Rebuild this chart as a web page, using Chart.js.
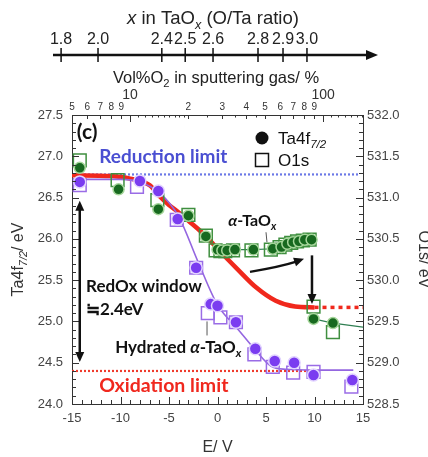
<!DOCTYPE html>
<html lang="en">
<head>
<meta charset="UTF-8">
<title>Ta4f / O1s vs E</title>
<script src="https://cdn.jsdelivr.net/npm/chart.js@4.4.1/dist/chart.umd.min.js"></script>
<style>
  body { margin: 0; background: #fff; }
  canvas { display: block; }
</style>
</head>
<body>
<canvas id="xpsChart" width="428" height="457"></canvas>
<script>
// α-TaOx film: Ta4f7/2 (left axis) and O1s (right axis) vs applied E
const greenTaE   = [-14.2, -10.2, -6.1, -3.0, -1.2, 0.0, 0.5, 1.0, 1.8, 3.7, 5.7, 6.6, 7.2, 7.8, 8.4, 9.0, 9.7, 9.9, 11.9];
const greenTa    = [26.86, 26.60, 26.36, 26.28, 26.03, 25.87, 25.86, 25.86, 25.87, 25.87, 25.88, 25.90, 25.94, 25.96, 25.97, 25.99, 25.99, 25.03, 24.98];
const greenO1sE  = [-14.2, -10.3, -6.2, -3.0, -1.2, -0.2, 0.3, 0.8, 1.6, 3.5, 5.5, 6.4, 7.0, 7.6, 8.2, 8.8, 9.5, 9.9, 11.9];
const greenO1s   = [531.45, 531.21, 530.97, 530.79, 530.54, 530.36, 530.35, 530.35, 530.36, 530.36, 530.37, 530.40, 530.43, 530.45, 530.47, 530.48, 530.49, 529.68, 529.37];

// hydrated α-TaOx film
const purpleTaE  = [-14.2, -8.0, -6.1, -4.1, -2.2, -0.7, 0.0, 1.9, 3.9, 5.9, 7.9, 9.9, 13.9];
const purpleTa   = [26.69, 26.70, 26.58, 26.24, 25.65, 25.21, 25.19, 24.99, 24.67, 24.52, 24.50, 24.35, 24.29];
const purpleO1sE = [-14.2, -8.3, -4.2, -2.2, -1.0, 0.3, 1.9, 3.8, 5.7, 7.8, 9.9, 13.8];
const purpleO1s  = [531.15, 531.13, 530.73, 530.15, 529.60, 529.55, 529.49, 529.10, 528.95, 528.88, 528.89, 528.71];

// guide curves
const redFitE    = [-15, -11, -9, -7, -6, -5, -4, -3, -2, -1, 0, 2, 4, 6, 8, 10];
const redFitTa   = [26.77, 26.76, 26.73, 26.65, 26.52, 26.41, 26.32, 26.22, 26.12, 26.01, 25.88, 25.64, 25.41, 25.25, 25.18, 25.17];
const redTailE   = [10, 15];
const redTailTa  = [25.17, 25.17];
const purpleFitE  = [-14.5, -10, -8, -6, -4, -2, 0, 2, 4, 5.5, 7, 10, 14];
const purpleFitTa = [26.72, 26.72, 26.69, 26.56, 26.27, 25.72, 25.20, 24.92, 24.64, 24.46, 24.42, 24.41, 24.41];
const greenLinkE  = [0.0, 1.0, 1.8, 3.7, 5.7, 6.6, 7.8, 9.0, 9.7, null, 9.9, 11.9, 15];
const greenLinkTa = [25.87, 25.86, 25.87, 25.87, 25.88, 25.90, 25.96, 25.99, 25.99, null, 25.03, 24.98, 24.93];

const reductionLimit = 26.78;
const oxidationLimit = 24.40;

// top axes: sputtering gas O2 vol% (log) and the matching O/Ta ratio
const ratioLabels = ['1.8', '2.0', '2.4', '2.5', '2.6', '2.8', '2.9', '3.0'];
const ratioVol    = [4.39, 6.82, 14.6, 19.3, 26.9, 46, 62, 82.5];
const volDigitVals = [5, 6, 7, 8, 9, 20, 30, 40, 50, 60, 70, 80, 90];
const volDigitText = ['5', '6', '7', '8', '9', '2', '3', '4', '5', '6', '7', '8', '9'];
const volDecades   = [10, 100];

const FONT = '"Liberation Sans", Arial, sans-serif';
const BOLD = 'Lato, "Open Sans", sans-serif';

const pts = (xs, ys) => xs.map((v, i) => (v === null ? {x: null, y: null} : {x: v, y: ys[i]}));

function richRun(ctx, parts, size, weight, fam) {
  return parts.map(p => {
    const s = p.sub ? size * 0.68 : size;
    const font = (p.it ? 'italic ' : '') + (weight || 'normal') + ' ' + s + 'px ' + fam;
    ctx.font = font;
    return {t: p.t, font, w: ctx.measureText(p.t).width, dy: p.sub ? size * 0.26 : 0};
  });
}
// y = baseline
function drawRich(ctx, parts, x, y, size, weight, fam, align) {
  const run = richRun(ctx, parts, size, weight, fam);
  const total = run.reduce((s, r) => s + r.w, 0);
  let cx = align === 'center' ? x - total / 2 : x;
  ctx.textAlign = 'left';
  ctx.textBaseline = 'alphabetic';
  run.forEach(r => {
    ctx.font = r.font;
    ctx.fillText(r.t, cx, y + r.dy);
    cx += r.w;
  });
  return total;
}
function arrowHead(ctx, x, y, ang, len, half) {
  const c = Math.cos(ang), s = Math.sin(ang);
  ctx.beginPath();
  ctx.moveTo(x, y);
  ctx.lineTo(x - len * c - half * s, y - len * s + half * c);
  ctx.lineTo(x - len * c + half * s, y - len * s - half * c);
  ctx.closePath();
  ctx.fill();
}

const decor = {
  id: 'decor',
  afterDraw(chart) {
    const {ctx, chartArea: a, scales} = chart;
    const {x, y, x2, y2} = scales;
    const px = v => x.getPixelForValue(v);
    const py = v => y.getPixelForValue(v);
    ctx.save();

    // inward tick marks, with minor ticks
    ctx.strokeStyle = '#333';
    ctx.lineWidth = 1;
    ctx.beginPath();
    for (let i = -15; i <= 15; i++) {
      const p = Math.round(px(i)) + 0.5;
      ctx.moveTo(p, a.bottom);
      ctx.lineTo(p, a.bottom - (i % 5 === 0 ? 7 : 4));
    }
    for (let i = 240; i <= 275; i++) {
      const p = Math.round(py(i / 10)) + 0.5;
      ctx.moveTo(a.left, p);
      ctx.lineTo(a.left + (i % 5 === 0 ? 7 : 4), p);
    }
    for (let i = 5285; i <= 5320; i++) {
      const p = Math.round(y2.getPixelForValue(i / 10)) + 0.5;
      ctx.moveTo(a.right, p);
      ctx.lineTo(a.right - (i % 5 === 0 ? 7 : 4), p);
    }
    const topTick = (v, len) => {
      const p = Math.round(x2.getPixelForValue(v)) + 0.5;
      ctx.moveTo(p, a.top);
      ctx.lineTo(p, a.top + len);
    };
    for (let v = 5; v <= 20; v++) topTick(v, v === 10 ? 7 : (v < 10 ? 4 : 2.5));
    for (let v = 20; v <= 90; v += 10) topTick(v, 4);
    [25, 35, 45].forEach(v => topTick(v, 2.5));
    topTick(100, 7);
    for (let v = 110; v <= 160; v += 10) topTick(v, 2.5);
    ctx.stroke();

    // log axis labels
    ctx.fillStyle = '#333';
    ctx.textAlign = 'center';
    ctx.textBaseline = 'middle';
    ctx.font = '10px ' + FONT;
    volDigitVals.forEach((v, i) => ctx.fillText(volDigitText[i], x2.getPixelForValue(v), a.top - 8));
    ctx.font = '14px ' + FONT;
    volDecades.forEach(v => ctx.fillText(String(v), x2.getPixelForValue(v), a.top - 20));
    ctx.fillStyle = '#222';
    drawRich(ctx, [{t: 'Vol%O'}, {t: '2', sub: true}, {t: ' in sputtering gas/ %'}], 216, 83, 16.5, 'normal', FONT, 'center');

    // O/Ta ratio arrow axis
    ctx.strokeStyle = '#111';
    ctx.fillStyle = '#111';
    ctx.lineWidth = 2.5;
    ctx.beginPath();
    ctx.moveTo(53, 55);
    ctx.lineTo(368, 55);
    ctx.stroke();
    arrowHead(ctx, 378, 55, 0, 12, 5);
    ctx.lineWidth = 1.5;
    ctx.beginPath();
    ratioVol.forEach(v => {
      const p = x2.getPixelForValue(v);
      ctx.moveTo(p, 48);
      ctx.lineTo(p, 62);
    });
    ctx.stroke();
    ctx.fillStyle = '#222';
    ctx.font = '16px ' + FONT;
    ctx.textAlign = 'center';
    ctx.textBaseline = 'middle';
    ratioVol.forEach((v, i) => ctx.fillText(ratioLabels[i], x2.getPixelForValue(v), 40));
    drawRich(ctx, [{t: 'x', it: true}, {t: ' in TaO'}, {t: 'x', it: true, sub: true}, {t: ' (O/Ta ratio)'}], 213, 24, 18.5, 'normal', FONT, 'center');

    // axis titles
    ctx.fillStyle = '#333';
    ctx.save();
    ctx.translate(17, (a.top + a.bottom) / 2);
    ctx.rotate(-Math.PI / 2);
    drawRich(ctx, [{t: 'Ta4f'}, {t: '7/2', sub: true, it: true}, {t: '/ eV'}], 0, 6, 16, 'normal', FONT, 'center');
    ctx.restore();
    ctx.save();
    ctx.translate(425, (a.top + a.bottom) / 2);
    ctx.rotate(Math.PI / 2);
    drawRich(ctx, [{t: 'O1s/ eV'}], 0, 6, 16, 'normal', FONT, 'center');
    ctx.restore();

    // panel label and legend
    ctx.fillStyle = '#111';
    drawRich(ctx, [{t: '(c)'}], px(-14.5), py(27.29) + 7, 21, 'bold', BOLD, 'left');
    ctx.beginPath();
    ctx.arc(262, 138, 6.5, 0, Math.PI * 2);
    ctx.fill();
    ctx.strokeStyle = '#111';
    ctx.lineWidth = 1.5;
    ctx.strokeRect(255.5, 153.5, 13, 13);
    drawRich(ctx, [{t: 'Ta4f'}, {t: '7/2', sub: true, it: true}], 278, 144, 17, 'normal', FONT, 'left');
    drawRich(ctx, [{t: 'O1s'}], 278, 166, 17, 'normal', FONT, 'left');

    // limit captions
    ctx.fillStyle = '#4a4fd2';
    drawRich(ctx, [{t: 'Reduction limit'}], px(-12.2), py(27.0) + 7, 19, 'bold', BOLD, 'left');
    ctx.fillStyle = '#f0281e';
    drawRich(ctx, [{t: 'Oxidation limit'}], px(-12.2), py(24.23) + 7, 19.5, 'bold', BOLD, 'left');

    // RedOx window
    ctx.fillStyle = '#111';
    ctx.strokeStyle = '#111';
    drawRich(ctx, [{t: 'RedOx window'}], px(-13.55), py(25.43) + 6, 17, 'bold', BOLD, 'left');
    drawRich(ctx, [{t: '≒2.4eV'}], px(-13.55), py(25.15) + 6, 17, 'bold', BOLD, 'left');
    const ax = px(-14.2), aTop = py(26.46), aBot = py(24.51);
    ctx.lineWidth = 2.5;
    ctx.beginPath();
    ctx.moveTo(ax, aTop + 8);
    ctx.lineTo(ax, aBot - 8);
    ctx.stroke();
    arrowHead(ctx, ax, aTop, -Math.PI / 2, 10, 4.5);
    arrowHead(ctx, ax, aBot, Math.PI / 2, 10, 4.5);

    // curved arrow and drop arrow near α-TaOx
    const c0 = [px(3.35), py(25.60)], c1 = [px(6.44), py(25.66)], c2 = [px(8.92), py(25.76)];
    ctx.beginPath();
    ctx.moveTo(c0[0], c0[1]);
    ctx.quadraticCurveTo(c1[0], c1[1], c2[0] - 6, c2[1] + 2.5);
    ctx.stroke();
    arrowHead(ctx, c2[0], c2[1], Math.atan2(c2[1] - c1[1], c2[0] - c1[0]), 10, 4.5);
    const dx = px(9.74);
    ctx.beginPath();
    ctx.moveTo(dx, py(25.80));
    ctx.lineTo(dx, py(25.21) - 8);
    ctx.stroke();
    arrowHead(ctx, dx, py(25.21), Math.PI / 2, 10, 4.5);

    // film labels with leader lines
    drawRich(ctx, [{t: 'Hydrated '}, {t: 'α', it: true}, {t: '-TaO'}, {t: 'x', it: true, sub: true}], px(-10.55), py(24.69) + 6, 17, 'bold', BOLD, 'left');
    drawRich(ctx, [{t: 'α', it: true}, {t: '-TaO'}, {t: 'x', it: true, sub: true}], px(1.1), py(26.23) + 6, 16, 'bold', BOLD, 'left');
    ctx.strokeStyle = '#555';
    ctx.lineWidth = 1;
    ctx.beginPath();
    ctx.moveTo(px(-1.08), py(25.0));
    ctx.lineTo(px(-1.08), py(24.83));
    ctx.moveTo(px(5.0), py(26.08));
    ctx.lineTo(px(5.1), py(25.96));
    ctx.stroke();

    ctx.restore();
  }
};

const tickFont = {family: FONT, size: 13};

new Chart(document.getElementById('xpsChart'), {
  type: 'scatter',
  data: {
    datasets: [
      {type: 'line', data: pts([-15, 14.6], [reductionLimit, reductionLimit]), borderColor: '#6b78e6',
        borderWidth: 2.2, borderDash: [2, 2], pointRadius: 0, order: 10},
      {type: 'line', data: pts([-15, 10], [oxidationLimit, oxidationLimit]), borderColor: '#ef3b2c',
        borderWidth: 2.2, borderDash: [2, 2], pointRadius: 0, order: 10},
      {type: 'line', data: pts(redFitE, redFitTa), borderColor: '#f0281c', borderWidth: 4.5,
        cubicInterpolationMode: 'monotone', pointRadius: 0, order: 9},
      {type: 'line', data: pts(redTailE, redTailTa), borderColor: '#f0281c', borderWidth: 3.5,
        borderDash: [4, 4], pointRadius: 0, order: 9},
      {type: 'line', data: pts(purpleFitE, purpleFitTa), borderColor: '#9466e0', borderWidth: 1.6,
        cubicInterpolationMode: 'monotone', pointRadius: 0, order: 8},
      {type: 'line', data: pts(greenLinkE, greenLinkTa), borderColor: '#2f7f52', borderWidth: 1.2,
        spanGaps: false, pointRadius: 0, order: 8},
      {label: 'α-TaOx O1s', data: pts(greenO1sE, greenO1s), yAxisID: 'y2', pointStyle: 'rect', pointRadius: 9,
        backgroundColor: 'rgba(0,0,0,0)', borderColor: '#3f8f3f', borderWidth: 1.5, order: 3},
      {label: 'hydrated O1s', data: pts(purpleO1sE, purpleO1s), yAxisID: 'y2', pointStyle: 'rect', pointRadius: 9,
        backgroundColor: 'rgba(0,0,0,0)', borderColor: '#9a6ce6', borderWidth: 1.5, order: 3},
      {label: 'α-TaOx Ta4f', data: pts(greenTaE, greenTa), pointRadius: 5.5,
        backgroundColor: '#17691f', borderColor: '#a5d69a', borderWidth: 1.5, order: 1},
      {label: 'hydrated Ta4f', data: pts(purpleTaE, purpleTa), pointRadius: 6,
        backgroundColor: '#7a3cf0', borderColor: '#e2d4ff', borderWidth: 1.5, order: 1}
    ]
  },
  options: {
    responsive: false,
    animation: false,
    devicePixelRatio: 1,
    events: [],
    layout: {padding: 0, autoPadding: false},
    plugins: {legend: {display: false}, tooltip: {enabled: false}},
    scales: {
      x: {
        type: 'linear', position: 'bottom', min: -15, max: 15,
        grid: {display: false, drawTicks: false},
        border: {display: true, color: '#333', width: 1},
        ticks: {stepSize: 5, padding: 7, color: '#444', font: tickFont, maxRotation: 0},
        title: {display: true, text: 'E/ V', color: '#333', font: {family: FONT, size: 16}, padding: {top: 0, bottom: 0}},
        afterFit(s) { s.height = 53; }
      },
      x2: {
        type: 'logarithmic', position: 'top', min: 5, max: 161,
        grid: {display: false, drawTicks: false},
        border: {display: true, color: '#333', width: 1},
        ticks: {display: false},
        afterFit(s) { s.height = 115; }
      },
      y: {
        type: 'linear', position: 'left', min: 24, max: 27.5,
        grid: {display: false, drawTicks: false},
        border: {display: true, color: '#333', width: 1},
        ticks: {stepSize: 0.5, padding: 9, color: '#444', font: tickFont, callback: v => v.toFixed(1)},
        afterFit(s) { s.width = 72; }
      },
      y2: {
        type: 'linear', position: 'right', min: 528.5, max: 532,
        grid: {display: false, drawTicks: false},
        border: {display: true, color: '#333', width: 1},
        ticks: {stepSize: 0.5, padding: 4, color: '#444', font: tickFont, callback: v => v.toFixed(1)},
        afterFit(s) { s.width = 65; }
      }
    }
  },
  plugins: [decor]
});
</script>
</body>
</html>
